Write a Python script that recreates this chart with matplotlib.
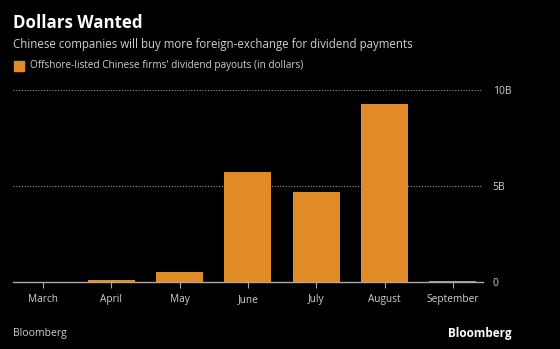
import matplotlib
matplotlib.use("Agg")
import matplotlib.pyplot as plt
from matplotlib.patches import Rectangle

months = ["March", "April", "May", "June", "July", "August", "September"]
payouts_bn = [0.02, 0.1, 0.52, 5.73, 4.69, 9.27, 0.05]
ytick_vals = [0, 5, 10]
ytick_labels = ["0", "5B", "10B"]

bg = "#000000"
bar_color = "#E08B27"
text_color = "#d0d0d0"

plt.rcParams['font.family'] = ['Open Sans', 'DejaVu Sans']

fig = plt.figure(figsize=(5.6, 3.49), dpi=100, facecolor=bg)
ax = fig.add_axes([0.023, 0.192, 0.8393, 0.550], facecolor=bg)

x = range(len(months))
ax.bar(x, payouts_bn, width=0.69, color=bar_color, zorder=3)

ax.set_xlim(-0.44, len(months) - 1 + 0.44)
ax.set_ylim(0, 10)
ax.set_xticks(list(x))
ax.set_xticklabels(months, color=text_color, fontsize=7.3)
ax.yaxis.tick_right()
ax.set_yticks(ytick_vals)
ax.set_yticklabels(ytick_labels, color=text_color, fontsize=7.5)
ax.tick_params(axis='y', length=0, pad=7)
ax.tick_params(axis='x', length=4, color="#aaaaaa", pad=5)

for v in ytick_vals[1:]:
    ax.axhline(v, color="#999999", linestyle=(0, (1, 1.5)), linewidth=0.8, zorder=1)

for s in ["top", "right", "left"]:
    ax.spines[s].set_visible(False)
ax.spines["bottom"].set_color("#aaaaaa")
ax.spines["bottom"].set_linewidth(1)
ax.spines["bottom"].set_zorder(4)

fig.text(0.023, 0.935, "Dollars Wanted", color="white", fontsize=12.2,
         fontweight="bold", va="center")
fig.text(0.023, 0.873, "Chinese companies will buy more foreign-exchange for dividend payments",
         color=text_color, fontsize=8.3, va="center")
fig.patches.append(Rectangle((0.025, 0.797), 0.017, 0.029, transform=fig.transFigure,
                             color=bar_color, figure=fig))
fig.text(0.054, 0.811, "Offshore-listed Chinese firms' dividend payouts (in dollars)",
         color=text_color, fontsize=7.2, va="center")
fig.text(0.023, 0.043, "Bloomberg", color=text_color, fontsize=7.5, va="center")
fig.text(0.913, 0.043, "Bloomberg", color="white", fontsize=8.5, fontweight="bold",
         va="center", ha="right")

fig.savefig("out.png", dpi=100, facecolor=bg)
